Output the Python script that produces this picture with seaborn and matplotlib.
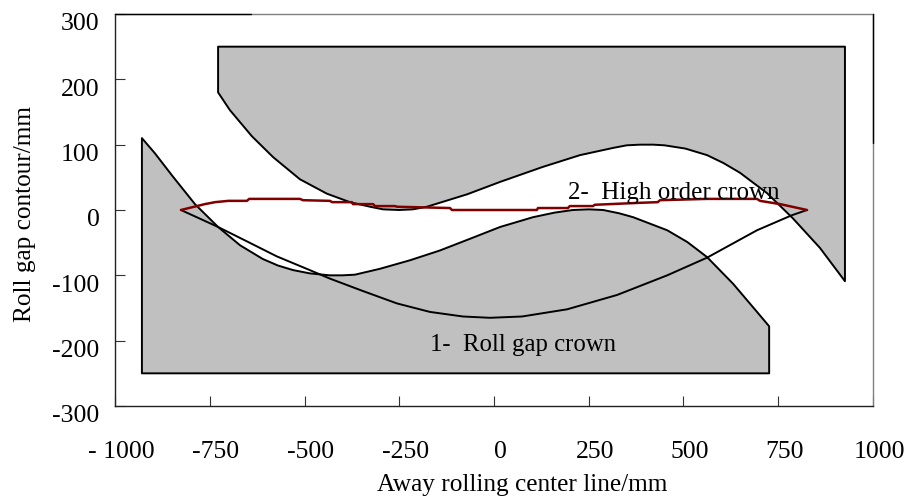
import matplotlib
matplotlib.use("Agg")
import matplotlib.pyplot as plt
import matplotlib.transforms as mtrans
import pandas as pd
import seaborn as sns

sns.set_style("ticks")
plt.rcParams['font.family'] = ['Liberation Serif', 'DejaVu Serif']
plt.rcParams['axes.unicode_minus'] = False

lower_x = [-929, -895, -847, -789, -728, -670, -610, -570, -530, -486, -433, -400, -367, -301, -222, -143, -63, 16, 103, 160, 208, 250, 288, 330, 367, 457, 510, 562, 631, 694, 726]
lower_y = [110, 87, 51, 9, -26, -54, -75, -85, -92, -97, -100, -100, -99, -90, -77, -62, -44, -26, -11, -4, 0, 1, 0, -5, -11, -31, -49, -72, -113, -156, -178]
lower_base = -250

upper_x = [-728, -697, -639, -583, -512, -441, -380, -327, -293, -250, -214, -177, -71, 16, 129, 227, 314, 350, 385, 420, 450, 505, 562, 605, 649, 720, 789, 860, 926]
upper_y = [180, 153, 113, 81, 47, 25, 12, 5, 1, 0, 1, 5, 24, 43, 66, 84, 95, 99, 100, 100, 99, 94, 84, 72, 57, 26, -13, -58, -109]
upper_top = 250

crown_x = [-826, -728, -652, -573, -486, -433, -346, -256, -169, -82, -11, 74, 193, 325, 457, 562, 694, 786, 826]
crown_y = [0, -26, -48, -71, -92, -105, -124, -143, -156, -163, -165, -163, -152, -130, -100, -73, -31, -8, 0]

high_x = [-826, -763, -736, -701, -652, -646, -512, -504, -433, -427, -375, -372, -319, -314, -261, -256, -116, -111, 113, 116, 195, 200, 261, 266, 385, 432, 438, 562, 694, 702, 755, 826]
high_y = [0, 9, 12, 14, 14, 17, 17, 15, 14, 12, 12, 9, 9, 6, 6, 5, 3, 0, 0, 3, 3, 6, 6, 8, 11, 12, 15, 17, 17, 14, 9, 0]

x_ticks = [-1000, -750, -500, -250, 0, 250, 500, 750, 1000]
x_labels = ['- 1000', '-750', '-500', '-250', '0', '250', '500', '750', '1000']
y_ticks = [-300, -200, -100, 0, 100, 200, 300]
y_labels = ['-300', '-200', '-100', '0', '100', '200', '300']

W, H = 912, 503
fig = plt.figure(figsize=(W / 100, H / 100), dpi=100)
ax = fig.add_axes([115 / W, 1 - 406 / H, (873 - 115) / W, (406 - 14) / H])

GREY = '#c0c0c0'
LW = 1.4

ax.fill(lower_x + [lower_x[-1], lower_x[0]], lower_y + [lower_base, lower_base],
        facecolor=GREY, edgecolor='black', linewidth=LW, joinstyle='round', zorder=1)
ax.fill(upper_x + [upper_x[-1], upper_x[0]], upper_y + [upper_top, upper_top],
        facecolor=GREY, edgecolor='black', linewidth=LW, joinstyle='round', zorder=1)

sns.lineplot(data=pd.DataFrame({'x': crown_x, 'y': crown_y}), x='x', y='y', sort=False,
             estimator=None, color='black', linewidth=LW, ax=ax, zorder=2)
sns.lineplot(data=pd.DataFrame({'x': high_x, 'y': high_y}), x='x', y='y', sort=False,
             estimator=None, color='#800000', linewidth=1.8, ax=ax, zorder=3)

ax.set_xlim(-1000, 1000)
ax.set_ylim(-300, 300)
ax.set_xticks(x_ticks, x_labels)
ax.set_yticks(y_ticks, y_labels)
ax.tick_params(axis='both', direction='in', length=7, width=0.8, color='#333333', labelsize=18.5, labelcolor='black')
ax.tick_params(axis='x', pad=25)
ax.tick_params(axis='y', pad=11)

dx = mtrans.ScaledTranslation(6 / 100, 0, fig.dpi_scale_trans)
dy = mtrans.ScaledTranslation(0, -8 / 100, fig.dpi_scale_trans)
for lab in ax.get_xticklabels():
    lab.set_transform(lab.get_transform() + dx)
for lab in ax.get_yticklabels():
    lab.set_transform(lab.get_transform() + dy)

ax.set_xlabel('')
ax.set_ylabel('')
fig.text(522 / W, 1 - 485 / H, 'Away rolling center line/mm', fontsize=18.2, ha='center', va='center', color='black')
fig.text(25 / W, 1 - 214 / H, 'Roll gap contour/mm', fontsize=18.2, rotation=90, ha='center', va='center', color='black')

ax.text(-170, -207, '1-  Roll gap crown', fontsize=17.8, ha='left', va='center', color='black', zorder=4)
ax.text(195, 26, '2-  High order crown', fontsize=18, ha='left', va='center', color='black', zorder=4)

for side in ['top', 'right']:
    ax.spines[side].set_color('#808080')
    ax.spines[side].set_linewidth(1.0)
for side in ['left', 'bottom']:
    ax.spines[side].set_color('#222222')
    ax.spines[side].set_linewidth(1.0)
ax.plot([0, 0.18], [1, 1], transform=ax.transAxes, color='black', lw=1.0, clip_on=False, zorder=5)
ax.plot([1, 1], [1, 0.67], transform=ax.transAxes, color='black', lw=1.0, clip_on=False, zorder=5)

fig.savefig('out.png', dpi=100)
